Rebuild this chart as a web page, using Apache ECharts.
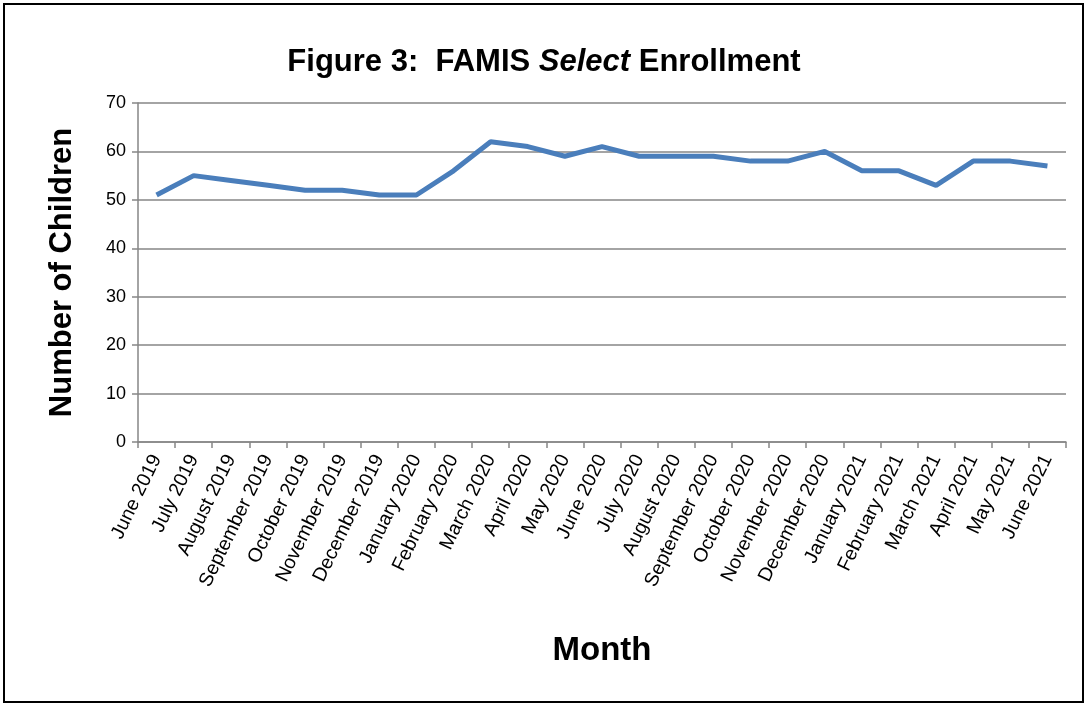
<!DOCTYPE html>
<html>
<head>
<meta charset="utf-8">
<script src="https://cdn.jsdelivr.net/npm/echarts@6/dist/echarts.min.js"></script>
<style>
  html, body { margin: 0; padding: 0; background: #fff; }
  #main { width: 1088px; height: 707px; }
</style>
</head>
<body>
<div id="main"></div>
<script>
// months on the x axis
var months = ['June 2019', 'July 2019', 'August 2019', 'September 2019', 'October 2019',
  'November 2019', 'December 2019', 'January 2020', 'February 2020', 'March 2020',
  'April 2020', 'May 2020', 'June 2020', 'July 2020', 'August 2020', 'September 2020',
  'October 2020', 'November 2020', 'December 2020', 'January 2021', 'February 2021',
  'March 2021', 'April 2021', 'May 2021', 'June 2021'];
// children enrolled
var enrollment = [51, 55, 54, 53, 52, 52, 51, 51, 56, 62, 61, 59, 61, 59, 59, 59,
  58, 58, 60, 56, 56, 53, 58, 58, 57];

var font = "'Liberation Sans', 'Open Sans', sans-serif";
var myChart = echarts.init(document.getElementById('main'));
var option = {
  backgroundColor: '#fff',
  animation: false,
  graphic: [{
    type: 'rect',
    shape: { x: 4, y: 4, width: 1079, height: 698 },
    style: { fill: 'none', stroke: '#000', lineWidth: 2 }
  }],
  title: {
    text: '{b|Figure 3:  FAMIS }{i|Select}{b| Enrollment}',
    left: 'center',
    top: 42,
    textStyle: {
      rich: {
        b: { fontFamily: font, fontSize: 31, fontWeight: 'bold', color: '#000' },
        i: { fontFamily: font, fontSize: 31, fontWeight: 'bold', fontStyle: 'italic', color: '#000' }
      }
    }
  },
  grid: { left: 138, right: 22, top: 103, bottom: 265, containLabel: false },
  xAxis: {
    type: 'category',
    data: months,
    boundaryGap: true,
    name: 'Month',
    nameLocation: 'middle',
    nameGap: 192,
    nameTextStyle: { fontFamily: font, fontSize: 33, fontWeight: 'bold', color: '#000' },
    axisLine: { lineStyle: { color: '#868686', width: 1.5 } },
    axisTick: { show: true, alignWithLabel: false, length: 6, lineStyle: { color: '#868686', width: 1.5 } },
    axisLabel: {
      rotate: 64,
      interval: 0,
      margin: 14,
      fontFamily: font,
      fontSize: 19.5,
      color: '#000'
    }
  },
  yAxis: {
    type: 'value',
    min: 0,
    max: 70,
    interval: 10,
    name: 'Number of Children',
    nameLocation: 'middle',
    nameGap: 60,
    nameTextStyle: { fontFamily: font, fontSize: 31, fontWeight: 'bold', color: '#000' },
    axisLine: { show: true, lineStyle: { color: '#868686', width: 1.5 } },
    axisTick: { show: true, length: 6, lineStyle: { color: '#868686', width: 1.5 } },
    axisLabel: { fontFamily: font, fontSize: 18, color: '#000', margin: 12 },
    splitLine: { lineStyle: { color: '#868686', width: 1.5 } }
  },
  series: [{
    name: 'Enrollment',
    type: 'line',
    data: enrollment,
    symbol: 'none',
    lineStyle: { color: '#4A7EBB', width: 5 },
    itemStyle: { color: '#4A7EBB' }
  }]
};
myChart.setOption(option);
</script>
</body>
</html>
